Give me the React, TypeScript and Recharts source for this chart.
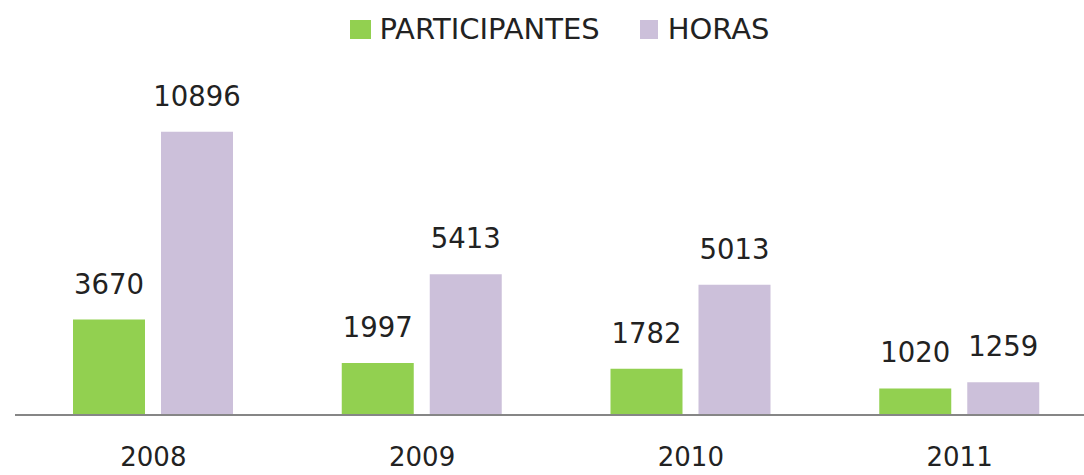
import React from 'react';
import { BarChart, Bar, XAxis, YAxis, Legend, LabelList } from 'recharts';

const years = ['2008', '2009', '2010', '2011'];
const participantes = [3670, 1997, 1782, 1020];
const horas = [10896, 5413, 5013, 1259];

const GREEN = '#92D050';
const LAVENDER = '#CCC0DA';
const TEXT = '#222222';
const FONT = '"DejaVu Sans", sans-serif';

const data = years.map((year, i) => ({
  year,
  participantes: participantes[i],
  horas: horas[i],
}));

const legendItems = [
  { label: 'PARTICIPANTES', color: GREEN, w: 21, gap: 8 },
  { label: 'HORAS', color: LAVENDER, w: 18, gap: 10 },
];

const ChartLegend = () => (
  <div
    style={{
      display: 'flex',
      justifyContent: 'center',
      alignItems: 'center',
      height: 40,
      fontFamily: FONT,
      fontSize: 29,
      color: TEXT,
    }}
  >
    {legendItems.map((item, i) => (
      <div
        key={item.label}
        style={{ display: 'flex', alignItems: 'center', marginLeft: i > 0 ? 40 : 0 }}
      >
        <span
          style={{
            display: 'inline-block',
            width: item.w,
            height: 19,
            background: item.color,
            marginRight: item.gap,
          }}
        />
        <span>{item.label}</span>
      </div>
    ))}
  </div>
);

const App = () => {
  return (
    <div
      style={{
        position: 'absolute',
        left: 0,
        top: 0,
        width: 1084,
        height: 475,
        overflow: 'hidden',
        background: '#fff',
        fontFamily: FONT,
      }}
    >
      <BarChart
        width={1100}
        height={475}
        data={data}
        margin={{ top: 63, right: 0, left: 15, bottom: 0 }}
        barGap={16}
      >
        <XAxis
          dataKey="year"
          height={60}
          padding={{ left: 4, right: 6 }}
          axisLine={{ stroke: '#868686', strokeWidth: 2 }}
          tickLine={false}
          tickSize={0}
          tickMargin={33}
          tick={{ fill: TEXT, fontSize: 26, fontFamily: FONT }}
        />
        <YAxis hide domain={[0, 12000]} />
        <Legend
          verticalAlign="top"
          wrapperStyle={{ top: 9, left: 0, width: 1120 }}
          content={() => <ChartLegend />}
        />
        <Bar dataKey="participantes" name="PARTICIPANTES" fill={GREEN} barSize={72} isAnimationActive={false}>
          <LabelList
            dataKey="participantes"
            position="top"
            offset={26}
            style={{ fill: TEXT, fontSize: 27.5, fontFamily: FONT }}
          />
        </Bar>
        <Bar dataKey="horas" name="HORAS" fill={LAVENDER} barSize={72} isAnimationActive={false}>
          <LabelList
            dataKey="horas"
            position="top"
            offset={26}
            style={{ fill: TEXT, fontSize: 27.5, fontFamily: FONT }}
          />
        </Bar>
      </BarChart>
    </div>
  );
};

export default App;
